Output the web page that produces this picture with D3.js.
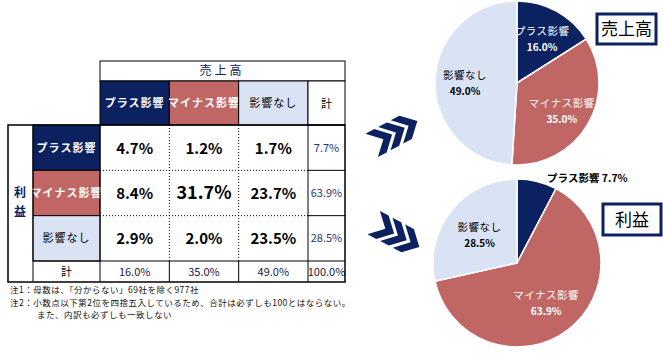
<!DOCTYPE html>
<html>
<head>
<meta charset="utf-8">
<script src="https://cdn.jsdelivr.net/npm/d3@7"></script>
<style>
  body { margin: 0; background: #fff; }
  svg { display: block; font-family: "Noto Sans CJK JP", "Noto Sans", sans-serif; }
</style>
</head>
<body>
<div id="canvas"></div>
<script>
// data
const categories = ["プラス影響", "マイナス影響", "影響なし"];
const matrix = [
  [4.7, 1.2, 1.7],
  [8.4, 31.7, 23.7],
  [2.9, 2.0, 23.5]
];
const rowTotals = [7.7, 63.9, 28.5];
const colTotals = [16.0, 35.0, 49.0];
const grandTotal = 100.0;
const salesShare = [16.0, 35.0, 49.0];
const profitShare = [7.7, 63.9, 28.5];
const notes = [
  "注1：母数は、「分からない」69社を除く977社",
  "注2：小数点以下第2位を四捨五入しているため、合計は必ずしも100とはならない。",
  "　　　また、内訳も必ずしも一致しない"
];

const colors = ["#0c2160", "#c06664", "#dae3f3"];
const navy = "#0c2160";

const width = 663, height = 361;
const svg = d3.select("#canvas").append("svg")
  .attr("width", width).attr("height", height);

// ---------- table ----------
const x = d3.scaleBand().domain(d3.range(3)).range([100, 308]);
const y = d3.scaleBand().domain(d3.range(3)).range([125, 261]);
const totX0 = 308, totX1 = 345, totY1 = 282;
const fmt = d => d.toFixed(1) + "%";

const t = svg.append("g");

// header
t.append("rect").attr("x", 100).attr("y", 61).attr("width", 245).attr("height", 20)
  .attr("fill", "#fff").attr("stroke", "#000");
t.append("text").attr("x", 222).attr("y", 75).attr("text-anchor", "middle")
  .attr("font-size", 12).attr("fill", navy).attr("letter-spacing", 3).text("売上高");

categories.forEach((c, i) => {
  t.append("rect").attr("x", x(i)).attr("y", 81).attr("width", x.bandwidth()).attr("height", 44)
    .attr("fill", colors[i]).attr("stroke", "#000");
  t.append("text").attr("x", x(i) + x.bandwidth() / 2).attr("y", 107).attr("text-anchor", "middle")
    .attr("font-size", 11).attr("font-weight", i < 2 ? "bold" : "normal")
    .attr("fill", i < 2 ? "#fff" : "#000").attr("letter-spacing", 1).text(c);
});
t.append("rect").attr("x", totX0).attr("y", 81).attr("width", totX1 - totX0).attr("height", 44)
  .attr("fill", "#fff").attr("stroke", "#000");
t.append("text").attr("x", (totX0 + totX1) / 2).attr("y", 108).attr("text-anchor", "middle")
  .attr("font-size", 11).text("計");

// row labels
categories.forEach((c, i) => {
  t.append("rect").attr("x", 33).attr("y", y(i)).attr("width", 67).attr("height", y.bandwidth())
    .attr("fill", colors[i]).attr("stroke", "#000");
  t.append("text").attr("x", 66.5).attr("y", y(i) + y.bandwidth() / 2 + 4).attr("text-anchor", "middle")
    .attr("font-size", 11).attr("font-weight", i < 2 ? "bold" : "normal")
    .attr("fill", i < 2 ? "#fff" : "#000").attr("letter-spacing", 1).text(c);
});
t.append("text").attr("x", 20).attr("y", 197).attr("text-anchor", "middle")
  .attr("font-size", 12).attr("font-weight", "bold").attr("fill", navy).text("利");
t.append("text").attr("x", 20).attr("y", 216).attr("text-anchor", "middle")
  .attr("font-size", 12).attr("font-weight", "bold").attr("fill", navy).text("益");

// dotted inner lines
[1, 2].forEach(i => {
  t.append("line").attr("x1", x(i)).attr("x2", x(i)).attr("y1", 125).attr("y2", 261)
    .attr("stroke", "#000").attr("stroke-dasharray", "1,2");
  t.append("line").attr("x1", 100).attr("x2", 308).attr("y1", y(i)).attr("y2", y(i))
    .attr("stroke", "#000").attr("stroke-dasharray", "1,2");
});

// cells
matrix.forEach((row, r) => row.forEach((v, c) => {
  t.append("text").attr("x", x(c) + x.bandwidth() / 2).attr("y", y(r) + y.bandwidth() / 2 + 6)
    .attr("text-anchor", "middle").attr("font-weight", "bold")
    .attr("font-size", v > 30 ? 18 : 15).text(fmt(v));
}));

// row totals column
rowTotals.forEach((v, r) => {
  t.append("line").attr("x1", totX0).attr("x2", totX1).attr("y1", y(r)).attr("y2", y(r)).attr("stroke", "#000");
  t.append("text").attr("x", (totX0 + totX1) / 2).attr("y", y(r) + y.bandwidth() / 2 + 4)
    .attr("text-anchor", "middle").attr("font-size", 11).attr("fill", "#1f3a7a").text(fmt(v));
});
t.append("line").attr("x1", totX0).attr("x2", totX0).attr("y1", 125).attr("y2", totY1).attr("stroke", "#000");

// totals row
t.append("line").attr("x1", 33).attr("x2", totX1).attr("y1", 261).attr("y2", 261).attr("stroke", "#000");
t.append("text").attr("x", 66.5).attr("y", 276).attr("text-anchor", "middle").attr("font-size", 11).text("計");
[1, 2].forEach(i => t.append("line").attr("x1", x(i)).attr("x2", x(i)).attr("y1", 261).attr("y2", totY1).attr("stroke", "#000"));
t.append("line").attr("x1", 100).attr("x2", 100).attr("y1", 125).attr("y2", totY1).attr("stroke", "#000");
t.append("line").attr("x1", 33).attr("x2", 33).attr("y1", 125).attr("y2", totY1).attr("stroke", "#000");
colTotals.forEach((v, c) => {
  t.append("text").attr("x", x(c) + x.bandwidth() / 2).attr("y", 276)
    .attr("text-anchor", "middle").attr("font-size", 11).attr("fill", "#1a1a40").text(fmt(v));
});
t.append("text").attr("x", (totX0 + totX1) / 2).attr("y", 276)
  .attr("text-anchor", "middle").attr("font-size", 11).attr("fill", "#1a1a40").text(fmt(grandTotal));

// outer border
t.append("rect").attr("x", 8).attr("y", 125).attr("width", totX1 - 8).attr("height", totY1 - 125)
  .attr("fill", "none").attr("stroke", "#000").attr("stroke-width", 1.5);

// notes
notes.forEach((n, i) => {
  t.append("text").attr("x", 10).attr("y", 293 + i * 12.5).attr("font-size", 8.5)
    .attr("letter-spacing", 0.5).attr("fill", "#111").text(n);
});

// ---------- chevrons ----------
function chevrons(cx, cy, angle) {
  const g = svg.append("g").attr("transform", `translate(${cx},${cy}) rotate(${angle}) scale(1.1)`);
  const shape = "M0,0 L9,0 L21,12 L9,24 L0,24 L12,12 Z";
  [0, 1, 2].forEach(i => g.append("path").attr("d", shape)
    .attr("transform", `translate(${-24 + i * 13},-12)`).attr("fill", navy));
}
chevrons(395, 133, -28);
chevrons(397, 235, 28);

// ---------- pies ----------
const pie = d3.pie().sort(null).value(d => d);

function drawPie(values, cx, cy, r, labelR, outside) {
  const g = svg.append("g").attr("transform", `translate(${cx},${cy})`);
  const arc = d3.arc().innerRadius(0).outerRadius(r);
  const lab = d3.arc().innerRadius(labelR).outerRadius(labelR);
  const arcs = pie(values);
  g.selectAll("path").data(arcs).join("path")
    .attr("d", arc).attr("fill", (d, i) => colors[i])
    .attr("stroke", "#fff").attr("stroke-width", 1.5);
  arcs.forEach((d, i) => {
    const fill = i < 2 ? "#fff" : "#000";
    if (outside && outside.index === i) {
      const [px, py] = d3.arc().innerRadius(r * 1.1).outerRadius(r * 1.1).centroid(d);
      g.append("text").attr("x", px + outside.dx).attr("y", py + outside.dy)
        .attr("font-size", 10.5).attr("font-weight", "bold")
        .text(categories[i] + " " + fmt(values[i]));
      return;
    }
    const [px, py] = lab.centroid(d);
    g.append("text").attr("x", px).attr("y", py - 2).attr("text-anchor", "middle")
      .attr("font-size", 10.5).attr("fill", fill).attr("letter-spacing", 0.5).text(categories[i]);
    g.append("text").attr("x", px).attr("y", py + 14).attr("text-anchor", "middle")
      .attr("font-size", 10).attr("font-weight", "bold").attr("fill", fill).text(fmt(values[i]));
  });
}
drawPie(salesShare, 517, 83, 82, 52);
drawPie(profitShare, 517, 263, 84, 48, { index: 0, dx: 8, dy: 9 });

// title boxes
function titleBox(bx, by, w, h, label) {
  svg.append("rect").attr("x", bx).attr("y", by).attr("width", w).attr("height", h)
    .attr("fill", "#fff").attr("stroke", navy).attr("stroke-width", 3);
  svg.append("text").attr("x", bx + w / 2).attr("y", by + h / 2 + 6).attr("text-anchor", "middle")
    .attr("font-size", 17).attr("fill", "#000").text(label);
}
titleBox(597, 14, 59, 30, "売上高");
titleBox(603, 204, 58, 31, "利益");
</script>
</body>
</html>
